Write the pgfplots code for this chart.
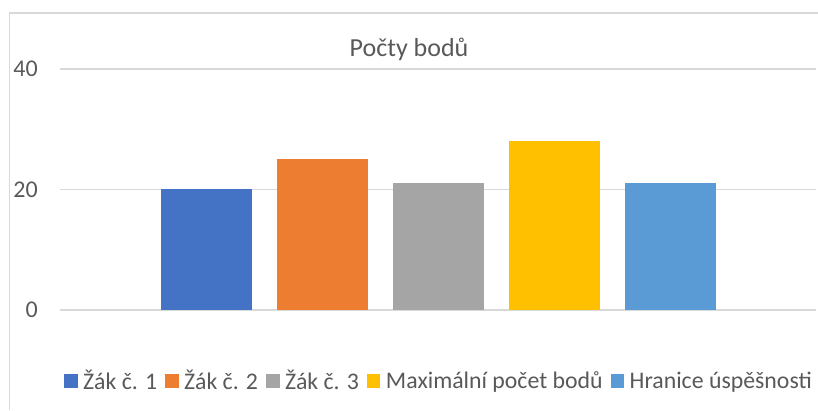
\documentclass[border=0pt]{standalone}
\usepackage{pgfplots}
\pgfplotsset{compat=1.18}
\usepackage{fontspec}
\setmainfont{Carlito}
\definecolor{c1}{HTML}{4472C4}
\definecolor{c2}{HTML}{ED7D31}
\definecolor{c3}{HTML}{A5A5A5}
\definecolor{c4}{HTML}{FFC000}
\definecolor{c5}{HTML}{5B9BD5}
\definecolor{txt}{HTML}{595959}
\definecolor{gridc}{HTML}{D9D9D9}
\pgfplotsset{sq/.style={legend image code/.code={\fill[#1] (0bp,-6.5bp) rectangle (13.5bp,7bp);}}}
\begin{document}
\begin{tikzpicture}[x=1bp,y=1bp]
\path[use as bounding box] (0,0) rectangle (818,410);
\draw[gridc, line width=1.2bp] (9.5,0) -- (9.5,397) -- (818,397);
\node[anchor=base, text=txt, font=\fontsize{26bp}{30bp}\selectfont, inner sep=0pt] at (409,354) {Počty bodů};
\begin{axis}[
  at={(60bp,341bp)}, anchor=north west, scale only axis,
  width=756bp, height=241bp,
  xmin=60, xmax=816, ymin=0, ymax=40,
  ytick={0,20,40}, xtick=\empty,
  axis line style={draw=none},
  major tick length=0pt,
  ymajorgrids, grid style={gridc, line width=1.2bp},
  /pgf/number format/assume math mode=true,
  yticklabel style={font=\fontsize{24bp}{28bp}\selectfont, text=txt, anchor=east, inner sep=0pt, xshift=-22bp},
  legend columns=-1,
  legend style={at={(0.5,-0.2946)}, anchor=center, draw=none, fill=none,
    font=\fontsize{23.8bp}{28bp}\selectfont, text=txt,
    nodes={inner xsep=0pt},
    /tikz/every odd column/.append style={column sep=5.5bp},
    /tikz/every even column/.append style={column sep=8bp}},
]
\addplot[ybar, bar width=91, bar shift=0pt, fill=c1, draw=none, sq=c1] coordinates {(206.5,20)};
\addlegendentry{Žák č. 1}
\addplot[ybar, bar width=91, bar shift=0pt, fill=c2, draw=none, sq=c2] coordinates {(322.5,25)};
\addlegendentry{Žák č. 2}
\addplot[ybar, bar width=91, bar shift=0pt, fill=c3, draw=none, sq=c3] coordinates {(438.5,21)};
\addlegendentry{Žák č. 3}
\addplot[ybar, bar width=91, bar shift=0pt, fill=c4, draw=none, sq=c4] coordinates {(554.5,28)};
\addlegendentry{Maximální počet bodů}
\addplot[ybar, bar width=91, bar shift=0pt, fill=c5, draw=none, sq=c5] coordinates {(670.5,21)};
\addlegendentry{Hranice úspěšnosti}
\end{axis}
\end{tikzpicture}
\end{document}
